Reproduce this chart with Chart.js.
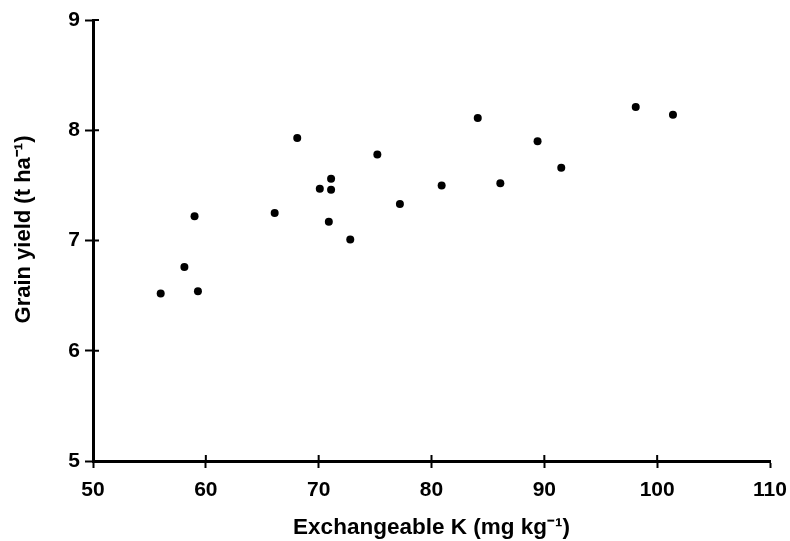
<!DOCTYPE html>
<html>
<head>
<meta charset="utf-8">
<script src="https://cdn.jsdelivr.net/npm/chart.js@4.4.1/dist/chart.umd.min.js"></script>
<style>
  html, body { margin: 0; padding: 0; background: #fff; }
  #wrap { width: 790px; height: 541px; }
</style>
</head>
<body>
<div id="wrap"><canvas id="chart"></canvas></div>
<script>
// exchangeable K (mg/kg) vs grain yield (t/ha)
const exchK = [56.0, 58.1, 59.3, 59.0, 66.1, 68.1, 70.1, 71.1, 71.1, 70.9, 72.8,
  75.2, 77.2, 80.9, 84.1, 86.1, 89.4, 91.5, 98.1, 101.4];
const grainYield = [6.52, 6.76, 6.54, 7.22, 7.25, 7.93, 7.47, 7.56, 7.46, 7.17, 7.01,
  7.78, 7.33, 7.50, 8.11, 7.52, 7.90, 7.66, 8.21, 8.14];
const xTicks = [50, 60, 70, 80, 90, 100, 110];
const yTicks = [5, 6, 7, 8, 9];
const yTitle = 'Grain yield (t ha\u207B\u00B9)';

const FONT = "'Liberation Sans', Arial, sans-serif";

let points = [];
for (let i = 0; i < exchK.length; i++) {
  points.push({ x: exchK[i], y: grainYield[i] });
}

// short ticks poking into the plot area + the y title (sits a bit above centre)
const extras = {
  id: 'extras',
  afterDraw(chart) {
    const ctx = chart.ctx;
    const xs = chart.scales.x, ys = chart.scales.y;
    ctx.save();
    ctx.strokeStyle = '#000';
    ctx.lineWidth = 2;
    ctx.beginPath();
    xs.ticks.forEach((t) => {
      if (t.value === 50 || t.value === 110) return;
      const px = xs.getPixelForValue(t.value);
      ctx.moveTo(px, ys.bottom);
      ctx.lineTo(px, ys.bottom - 6);
    });
    ys.ticks.forEach((t) => {
      if (t.value === 5) return;
      const py = ys.getPixelForValue(t.value);
      ctx.moveTo(xs.left, py);
      ctx.lineTo(xs.left + 6, py);
    });
    ctx.stroke();

    ctx.translate(24, (ys.top + ys.bottom) / 2 - 11);
    ctx.rotate(-Math.PI / 2);
    ctx.fillStyle = '#000';
    ctx.font = 'bold 22px ' + FONT;
    ctx.textAlign = 'center';
    ctx.textBaseline = 'middle';
    ctx.fillText(yTitle, 0, 0);
    ctx.restore();
  }
};

new Chart(document.getElementById('chart').getContext('2d'), {
  type: 'scatter',
  data: {
    datasets: [{
      label: 'Grain yield',
      data: points,
      backgroundColor: '#000',
      borderColor: '#000',
      pointStyle: 'circle',
      pointRadius: 4,
      pointHoverRadius: 4,
      borderWidth: 0
    }]
  },
  options: {
    responsive: true,
    maintainAspectRatio: false,
    animation: false,
    events: [],
    layout: { padding: { top: 20, right: 20, left: 0, bottom: 0 } },
    plugins: {
      legend: { display: false },
      tooltip: { enabled: false }
    },
    scales: {
      x: {
        type: 'linear',
        min: 50,
        max: 110,
        afterBuildTicks: (s) => { s.ticks = xTicks.map((v) => ({ value: v })); },
        afterFit: (s) => { s.height = 80; s.paddingLeft = 0; s.paddingRight = 0; },
        border: { display: true, color: '#000', width: 3 },
        grid: { display: true, drawOnChartArea: false, drawTicks: true, tickLength: 7, tickWidth: 2, tickColor: '#000' },
        ticks: {
          color: '#000',
          padding: 10,
          font: { family: FONT, size: 21, weight: 'bold' }
        },
        title: {
          display: true,
          text: 'Exchangeable K (mg kg\u207B\u00B9)',
          color: '#000',
          padding: { top: 4, bottom: 0 },
          font: { family: FONT, size: 22.5, weight: 'bold' }
        }
      },
      y: {
        type: 'linear',
        min: 5,
        max: 9,
        afterBuildTicks: (s) => { s.ticks = yTicks.map((v) => ({ value: v })); },
        afterFit: (s) => { s.width = 93; s.paddingTop = 0; s.paddingBottom = 0; },
        border: { display: true, color: '#000', width: 3 },
        grid: { display: true, drawOnChartArea: false, drawTicks: true, tickLength: 8, tickWidth: 2, tickColor: '#000' },
        ticks: {
          color: '#000',
          padding: 5,
          font: { family: FONT, size: 21, weight: 'bold' }
        },
        title: { display: false }
      }
    }
  },
  plugins: [extras]
});
</script>
</body>
</html>
